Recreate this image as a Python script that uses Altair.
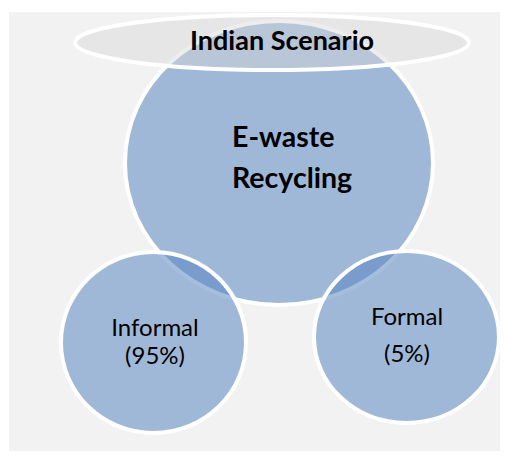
import altair as alt
import pandas as pd

# ---- diagram content ----
title_text = ["Indian Scenario"]
center_lines = ["E-waste", "Recycling"]
branch_names = ["Informal", "Formal"]
branch_shares = ["(95%)", "(5%)"]

# ---- layout (diagram coordinates, px) ----
shape_names = ["main", "informal", "formal", "banner"]
shape_cx = [279, 153.5, 406.5, 272]
shape_cy = [163, 342.5, 337, 42.5]
shape_rx = [154, 92.5, 92.5, 197]
shape_ry = [142, 90.5, 86, 27.5]

C = 0.5523


def ellipse_path(k):
    a, b = C, k * C
    return (f"M -1 0 C -1 {-b:.4f} {-a:.4f} {-k:.4f} 0 {-k:.4f} "
            f"C {a:.4f} {-k:.4f} 1 {-b:.4f} 1 0 "
            f"C 1 {b:.4f} {a:.4f} {k:.4f} 0 {k:.4f} "
            f"C {-a:.4f} {k:.4f} -1 {b:.4f} -1 0 Z")


shapes = pd.DataFrame({"name": shape_names, "cx": shape_cx, "cy": shape_cy,
                       "rx": shape_rx, "ry": shape_ry})
shapes["order"] = range(len(shapes))
shapes["path"] = (shapes["ry"] / shapes["rx"]).map(ellipse_path)
shapes["size"] = (2 * shapes["rx"]) ** 2

texts = pd.DataFrame({
    "label": title_text + center_lines + [branch_names[0], branch_shares[0],
                                          branch_names[1], branch_shares[1]],
    "x": [282, 232, 232, 155, 155, 407, 407],
    "y": [50, 147, 188, 336, 364, 325, 362],
    "kind": ["title", "center", "center", "branch", "branch", "branch", "branch"],
})

W, H = 491, 439
xs = alt.Scale(domain=[9, 9 + W], range=[0, W])
ys = alt.Scale(domain=[12, 12 + H], range=[0, H])

base_sh = alt.Chart(shapes).encode(
    x=alt.X("cx:Q", scale=xs, axis=None),
    y=alt.Y("cy:Q", scale=ys, axis=None),
    shape=alt.Shape("path:N", scale=None),
    size=alt.Size("size:Q", scale=None),
    order=alt.Order("order:Q"),
)

circles = base_sh.transform_filter(alt.datum.name != "banner").mark_point(
    filled=True, fill="#5684c0", fillOpacity=0.53, stroke="white",
    strokeWidth=4, strokeOpacity=1, opacity=1)

banner = base_sh.transform_filter(alt.datum.name == "banner").mark_point(
    filled=True, fill="#d6d6d6", fillOpacity=0.45, stroke="white",
    strokeWidth=4, strokeOpacity=1, opacity=1)

tbase = alt.Chart(texts).encode(
    x=alt.X("x:Q", scale=xs, axis=None),
    y=alt.Y("y:Q", scale=ys, axis=None),
    text="label:N",
)
t_title = tbase.transform_filter(alt.datum.kind == "title").mark_text(
    font="Lato", fontWeight="bold", fontSize=27, color="black",
    align="center", baseline="alphabetic")
t_center = tbase.transform_filter(alt.datum.kind == "center").mark_text(
    font="Lato", fontWeight="bold", fontSize=28.5, color="black",
    align="left", baseline="alphabetic")
t_branch = tbase.transform_filter(alt.datum.kind == "branch").mark_text(
    font="Lato", fontSize=24, color="black",
    align="center", baseline="alphabetic")

chart = alt.layer(circles, banner, t_title, t_center, t_branch).properties(
    width=W, height=H,
    padding={"left": 1, "top": 4, "right": 0, "bottom": 0},
    autosize=alt.AutoSizeParams(type="none"),
    background="white",
).configure_view(fill="#f2f2f2", stroke=None)

chart.save("out.html", embed_options={"renderer": "svg", "actions": False})
